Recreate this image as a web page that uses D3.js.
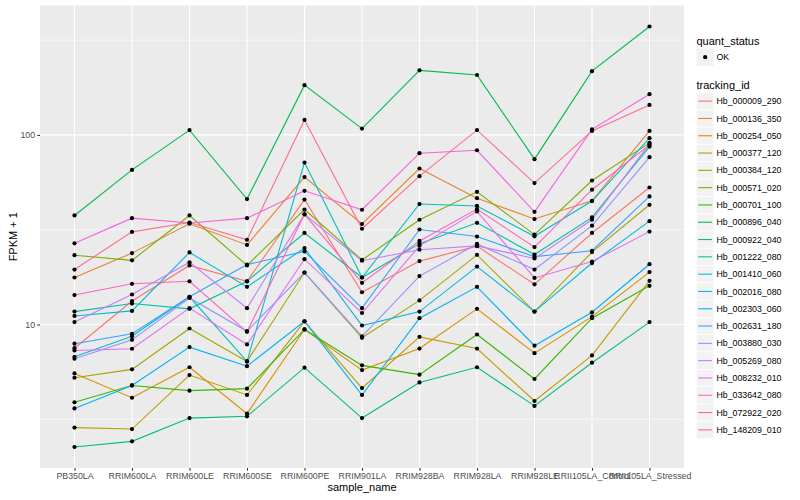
<!DOCTYPE html>
<html>
<head>
<meta charset="UTF-8">
<title>FPKM by sample</title>
<script src="https://d3js.org/d3.v7.min.js"></script>
<style>
  body { margin: 0; background: #fff; }
  svg { display: block; font-family: "Liberation Sans", Arial, sans-serif; }
</style>
</head>
<body>
<div id="chart"></div>
<script>
// x categories
const samples = ["PB350LA", "RRIM600LA", "RRIM600LE", "RRIM600SE", "RRIM600PE", "RRIM901LA",
                 "RRIM928BA", "RRIM928LA", "RRIM928LE", "RRII105LA_Control", "RRII105LA_Stressed"];

const trackingIds = ["Hb_000009_290", "Hb_000136_350", "Hb_000254_050", "Hb_000377_120", "Hb_000384_120",
                     "Hb_000571_020", "Hb_000701_100", "Hb_000896_040", "Hb_000922_040", "Hb_001222_080",
                     "Hb_001410_060", "Hb_002016_080", "Hb_002303_060", "Hb_002631_180", "Hb_003880_030",
                     "Hb_005269_080", "Hb_008232_010", "Hb_033642_080", "Hb_072922_020", "Hb_148209_010"];

const yTicks = [10, 100];
const quantStatus = ["OK"];

// FPKM + 1, one array per tracking_id, in sample order
const hb000009_290 = [7.5, 13.3, 20.5, 16.9, 45.6, 14.8, 21.6, 25.9, 16.3, 30.4, 52.8];
const hb000136_350 = [17.7, 23.8, 34.0, 26.3, 59.9, 33.9, 66.5, 46.4, 36.0, 44.9, 105];
const hb000254_050 = [5.52, 4.11, 5.95, 3.39, 9.42, 5.75, 7.47, 12.1, 7.06, 11.0, 18.9];
const hb000377_120 = [2.86, 2.81, 5.41, 4.25, 10.4, 4.62, 8.61, 7.47, 3.95, 6.87, 17.0];
const hb000384_120 = [5.24, 5.80, 9.53, 6.39, 18.8, 8.51, 13.4, 23.3, 11.7, 24.1, 42.8];
const hb000571_020 = [23.2, 21.8, 37.6, 20.5, 40.4, 21.9, 35.7, 50.1, 29.8, 57.5, 90.8];
const hb000701_100 = [3.89, 4.77, 4.48, 4.59, 9.42, 6.09, 5.44, 8.86, 5.16, 10.8, 16.0];
const hb000896_040 = [37.6, 65.4, 106, 45.9, 183, 108, 219, 207, 74.5, 217, 373];
const hb000922_040 = [2.26, 2.42, 3.21, 3.28, 5.92, 3.21, 4.95, 5.95, 3.72, 6.29, 10.3];
const hb001222_080 = [11.7, 12.9, 12.1, 16.9, 30.4, 17.7, 26.7, 34.4, 23.4, 36.7, 86.8];
const hb001410_060 = [6.76, 8.68, 14.0, 6.39, 71.5, 17.7, 43.2, 42.2, 29.2, 44.8, 96.1];
const hb002016_080 = [11.1, 11.8, 24.0, 15.8, 25.3, 9.88, 11.7, 20.2, 11.7, 21.1, 35.1];
const hb002303_060 = [3.61, 4.77, 7.60, 6.03, 10.4, 4.25, 10.8, 15.8, 7.73, 11.6, 20.8];
const hb002631_180 = [7.92, 8.93, 14.0, 20.7, 24.3, 12.2, 31.7, 29.1, 22.8, 24.5, 47.4];
const hb003880_030 = [6.60, 8.30, 13.8, 9.22, 18.8, 8.65, 18.0, 26.6, 19.5, 33.2, 76.3];
const hb005269_080 = [10.3, 14.4, 21.3, 12.2, 38.1, 21.7, 24.8, 26.0, 22.3, 35.7, 89.7];
const hb008232_010 = [7.30, 7.45, 12.2, 7.85, 22.1, 11.5, 26.0, 39.5, 17.6, 21.5, 30.9];
const hb033642_080 = [26.8, 36.4, 34.3, 36.4, 50.7, 40.3, 80.1, 83.0, 39.3, 107, 164];
const hb072922_020 = [14.3, 16.4, 16.9, 9.15, 38.1, 16.6, 27.6, 40.6, 25.6, 51.4, 88.6];
const hb148209_010 = [19.5, 30.8, 34.5, 28.0, 120, 32.0, 60.6, 106, 55.7, 105, 144];

const fpkm = [hb000009_290, hb000136_350, hb000254_050, hb000377_120, hb000384_120,
              hb000571_020, hb000701_100, hb000896_040, hb000922_040, hb001222_080,
              hb001410_060, hb002016_080, hb002303_060, hb002631_180, hb003880_030,
              hb005269_080, hb008232_010, hb033642_080, hb072922_020, hb148209_010];

// ggplot default hue palette for 20 levels
const palette = ["#F8766D", "#EA8331", "#D89000", "#C09B00", "#A3A500", "#7CAE00", "#39B600",
                 "#00BB4E", "#00BF7D", "#00C1A3", "#00BFC4", "#00BAE0", "#00B0F6", "#35A2FF",
                 "#9590FF", "#C77CFF", "#E76BF3", "#FA62DB", "#FF62BC", "#FF6C91"];

const width = 800, height = 500;
const panel = { left: 40, right: 684, top: 5.5, bottom: 468 };

const svg = d3.select("#chart").append("svg")
    .attr("width", width)
    .attr("height", height);

const x = d3.scalePoint()
    .domain(samples)
    .range([panel.left, panel.right])
    .padding(0.6);

// log scale with ggplot-like 5% expansion in log space
const all = fpkm.flat();
const lo = Math.log10(d3.min(all)), hi = Math.log10(d3.max(all));
const pad = (hi - lo) * 0.05;
const y = d3.scaleLog()
    .domain([Math.pow(10, lo - pad), Math.pow(10, hi + pad)])
    .range([panel.bottom, panel.top]);

// panel
svg.append("rect")
    .attr("x", panel.left).attr("y", panel.top)
    .attr("width", panel.right - panel.left)
    .attr("height", panel.bottom - panel.top)
    .attr("fill", "#EBEBEB");

// minor grid (midpoints between decades)
const minor = [0.5, 1.5, 2.5].map(e => Math.pow(10, e))
    .filter(v => v > y.domain()[0] && v < y.domain()[1]);
svg.append("g").selectAll("line").data(minor).join("line")
    .attr("x1", panel.left).attr("x2", panel.right)
    .attr("y1", d => y(d)).attr("y2", d => y(d))
    .attr("stroke", "#fff").attr("stroke-width", 0.55);

// major grid
svg.append("g").selectAll("line").data(yTicks).join("line")
    .attr("x1", panel.left).attr("x2", panel.right)
    .attr("y1", d => y(d)).attr("y2", d => y(d))
    .attr("stroke", "#fff").attr("stroke-width", 1.1);
svg.append("g").selectAll("line").data(samples).join("line")
    .attr("x1", d => x(d)).attr("x2", d => x(d))
    .attr("y1", panel.top).attr("y2", panel.bottom)
    .attr("stroke", "#fff").attr("stroke-width", 1.1);

// lines
const line = d3.line()
    .x((d, i) => x(samples[i]))
    .y(d => y(d));

svg.append("g").selectAll("path").data(fpkm).join("path")
    .attr("d", line)
    .attr("fill", "none")
    .attr("stroke", (d, i) => palette[i])
    .attr("stroke-width", 1.1);

// points
svg.append("g").selectAll("g").data(fpkm).join("g")
    .selectAll("circle").data(d => d).join("circle")
    .attr("cx", (d, i) => x(samples[i]))
    .attr("cy", d => y(d))
    .attr("r", 2.1)
    .attr("fill", "#000");

// axes
const yAxis = svg.append("g")
    .attr("transform", `translate(${panel.left},0)`)
    .call(d3.axisLeft(y).tickValues(yTicks).tickFormat(d3.format("d")).tickSize(2.7).tickPadding(2.2));
const xAxis = svg.append("g")
    .attr("transform", `translate(0,${panel.bottom})`)
    .call(d3.axisBottom(x).tickSize(2.7).tickPadding(2.2));

[yAxis, xAxis].forEach(a => {
    a.select(".domain").remove();
    a.selectAll(".tick line").attr("stroke", "#333333").attr("stroke-width", 1.1);
    a.selectAll(".tick text")
        .attr("fill", "#4D4D4D")
        .style("font-size", "8.8px")
        .style("font-family", "'Liberation Sans', Arial, sans-serif");
});

// axis titles
svg.append("text")
    .attr("x", (panel.left + panel.right) / 2)
    .attr("y", 491)
    .attr("text-anchor", "middle")
    .style("font-size", "11px")
    .text("sample_name");

svg.append("text")
    .attr("transform", `translate(16.5,${(panel.top + panel.bottom) / 2}) rotate(-90)`)
    .attr("text-anchor", "middle")
    .style("font-size", "11px")
    .text("FPKM + 1");

// legends
const legX = 696.5, keySize = 17.3;

svg.append("text")
    .attr("x", legX).attr("y", 44.5)
    .style("font-size", "11px")
    .text("quant_status");

const qs = svg.append("g").selectAll("g").data(quantStatus).join("g")
    .attr("transform", (d, i) => `translate(${legX},${48.5 + i * keySize})`);
qs.append("rect")
    .attr("width", keySize).attr("height", keySize)
    .attr("fill", "#F2F2F2");
qs.append("circle")
    .attr("cx", keySize / 2).attr("cy", keySize / 2).attr("r", 2.1)
    .attr("fill", "#000");
qs.append("text")
    .attr("x", keySize + 2.6).attr("y", keySize / 2)
    .attr("dy", "0.35em")
    .style("font-size", "8.8px")
    .text(d => d);

svg.append("text")
    .attr("x", legX).attr("y", 89)
    .style("font-size", "11px")
    .text("tracking_id");

const tk = svg.append("g").selectAll("g").data(trackingIds).join("g")
    .attr("transform", (d, i) => `translate(${legX},${92.5 + i * keySize})`);
tk.append("rect")
    .attr("width", keySize).attr("height", keySize)
    .attr("fill", "#F2F2F2")
    .attr("stroke", "#fff").attr("stroke-width", 0.6);
tk.append("line")
    .attr("x1", 1.7).attr("x2", keySize - 1.7)
    .attr("y1", keySize / 2).attr("y2", keySize / 2)
    .attr("stroke", (d, i) => palette[i])
    .attr("stroke-width", 1.1);
tk.append("text")
    .attr("x", keySize + 2.6).attr("y", keySize / 2)
    .attr("dy", "0.35em")
    .style("font-size", "8.8px")
    .text(d => d);
</script>
</body>
</html>
